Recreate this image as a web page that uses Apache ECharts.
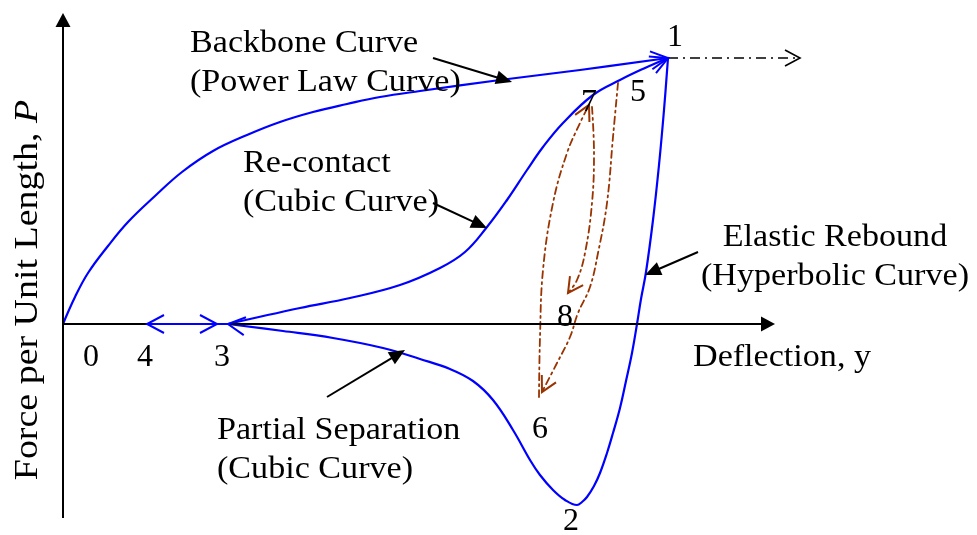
<!DOCTYPE html>
<html>
<head>
<meta charset="utf-8">
<script src="https://cdn.jsdelivr.net/npm/echarts@6.0.0/dist/echarts.min.js"></script>
<style>
  html, body { margin: 0; padding: 0; background: #fff; }
  #chart { width: 977px; height: 535px; }
</style>
</head>
<body>
<div id="chart"></div>
<script>
// P–y spring response under cyclic lateral loading.
// Units are arbitrary deflection (y) and force per unit length (P).

// Backbone (power law) from 0 to 1
const backboneX = [0, 12, 25, 45, 65, 92, 119, 150, 184, 217, 250, 284, 317, 357, 437, 517, 605];
const backboneY = [0, 27, 51, 78, 102, 128, 152, 173, 189, 202, 212, 220, 227, 233, 244, 254, 266];

// Elastic rebound (hyperbolic) from 1 to 2
const reboundX = [605, 601, 596, 590, 583, 578, 574, 569, 563, 557, 550, 544, 537, 531, 524, 519, 514];
const reboundY = [266, 214, 159, 104, 52, 25, 0, -29, -57, -84, -109, -129, -149, -162, -173, -178, -181];

// Partial separation (cubic) from 2 to 3
const separationX = [514, 502, 490, 477, 467, 450, 430, 410, 387, 357, 320, 270, 220, 165];
const separationY = [-181, -176, -166, -151, -136, -106, -76, -57, -45, -35, -24, -14, -7, 0];

// Re-contact (cubic) from 3 back to 1
const recontactX = [165, 237, 287, 337, 377, 402, 424, 444, 464, 480, 500, 530, 557, 582, 605];
const recontactY = [0, 16, 26, 39, 56, 72, 97, 124, 154, 177, 201, 229, 244, 256, 266];

// Inner load cycles 5 -> 6 -> 7 -> 8
const cycle56X = [555, 550, 544, 535, 527, 515, 507, 494, 479];
const cycle56Y = [241, 187, 121, 71, 37, 11, -13, -39, -68];
const cycle67X = [476, 477, 480, 490, 504, 517, 526];
const cycle67Y = [-73, -13, 54, 121, 171, 201, 219];
const cycle78X = [529, 531, 529, 522, 514, 505];
const cycle78Y = [217, 171, 121, 71, 44, 31];

// State labels
const stateNames = ['0', '1', '2', '3', '4', '5', '6', '7', '8'];
const stateX = [28, 612, 508, 159, 82, 575, 477, 526, 502];
const stateY = [-34, 286, -198, -34, -34, 231, -106, 221, 6];

// Axes, gap-closing moves along the axis, continuation beyond 1: [x1, y1, x2, y2]
const axisSegments = [[0, -194, 0, 311], [0, 0, 712, 0]];
const gapOpen = [[165, 0, 84, 0]];
const gapClose = [[84, 0, 154, 0]];
const beyondPeak = [[605, 266, 737, 266]];

// Callout pointers [x1, y1, x2, y2]
const pointers = [[370, 266, 449, 242], [370, 121, 424, 96], [635, 72, 582, 49], [264, -73, 342, -26]];

// Callout texts and their anchors
const noteTexts = [
  'Backbone Curve\n(Power Law Curve)',
  'Re-contact\n(Cubic Curve)',
  'Elastic Rebound\n(Hyperbolic Curve)',
  'Partial Separation\n(Cubic Curve)',
  'Deflection, y'
];
const noteX = [127, 180, 772, 154, 630];
const noteY = [300, 180, 106, -87, -14];
const noteAlign = ['left', 'left', 'center', 'left', 'left'];

const yTitle = 'Force per Unit Length, ';
const yTitleVar = 'P';
const yTitleAt = [-35, 34];

const BLUE = '#0000ff';
const BROWN = '#993300';
const FONT = 'Liberation Serif, Times New Roman, serif';

const pts = (xs, ys) => xs.map((x, i) => [x, ys[i]]);
const lastStep = (xs, ys) => {
  const n = xs.length;
  return [[xs[n - 2], ys[n - 2], xs[n - 1], ys[n - 1]]];
};

function curve(data, color, width, dash) {
  return {
    type: 'line', data, smooth: 0.4,
    symbol: 'none', clip: false, silent: true,
    lineStyle: { color, width, type: dash || 'solid', cap: 'round', join: 'round' },
    z: 3
  };
}

// Straight segments with optional arrow heads (open chevron or filled triangle)
function segments(data, o) {
  return {
    type: 'custom', coordinateSystem: 'cartesian2d', clip: false, silent: true, z: 4,
    data,
    renderItem(params, api) {
      const p0 = api.coord([api.value(0), api.value(1)]);
      const p1 = api.coord([api.value(2), api.value(3)]);
      const ang = Math.atan2(p1[1] - p0[1], p1[0] - p0[0]);
      const ux = Math.cos(ang), uy = Math.sin(ang);
      const children = [];
      let end = p1;
      if (o.head === 'filled') end = [p1[0] - ux * o.len * 0.7, p1[1] - uy * o.len * 0.7];
      if (o.line !== false) {
        children.push({
          type: 'line',
          shape: { x1: p0[0], y1: p0[1], x2: end[0], y2: end[1] },
          style: { stroke: o.color, lineWidth: o.width, lineDash: o.dash || null }
        });
      }
      if (o.head) {
        const bx = p1[0] - ux * o.len, by = p1[1] - uy * o.len;
        const a = [bx - uy * o.half, by + ux * o.half];
        const b = [bx + uy * o.half, by - ux * o.half];
        if (o.head === 'filled') {
          children.push({ type: 'polygon', shape: { points: [p1, a, b] }, style: { fill: o.color } });
        } else {
          children.push({
            type: 'polyline', shape: { points: [a, p1, b] },
            style: { stroke: o.color, lineWidth: o.headWidth || o.width, fill: null }
          });
        }
      }
      return { type: 'group', children };
    }
  };
}

const chart = echarts.init(document.getElementById('chart'), null, { renderer: 'canvas' });

const cycleDash = [7, 4, 2, 4];

chart.setOption({
  animation: false,
  backgroundColor: '#fff',
  grid: { left: 0, right: 0, top: 0, bottom: 0 },
  xAxis: { type: 'value', min: -63, max: 914, show: false },
  yAxis: { type: 'value', min: -211, max: 324, show: false },
  series: [
    segments(axisSegments, { color: '#000', width: 2, head: 'filled', len: 14, half: 7.5 }),
    segments(beyondPeak, { color: '#000', width: 1.6, dash: [10, 5, 2, 5], head: 'open', len: 15, half: 8, headWidth: 1.6 }),
    segments(gapOpen, { color: BLUE, width: 2, head: 'open', len: 17, half: 9 }),
    segments(gapClose, { color: BLUE, width: 2, head: 'open', len: 17, half: 9, line: false }),

    curve(pts(backboneX, backboneY), BLUE, 2.2),
    curve(pts(reboundX.concat(separationX.slice(1)), reboundY.concat(separationY.slice(1))), BLUE, 2.2),
    curve(pts(recontactX, recontactY), BLUE, 2.2),
    segments(lastStep(backboneX, backboneY), { color: BLUE, width: 2, head: 'open', len: 17, half: 9, line: false }),
    segments(lastStep(recontactX, recontactY), { color: BLUE, width: 2, head: 'open', len: 17, half: 9, line: false }),
    segments(lastStep(separationX, separationY), { color: BLUE, width: 2, head: 'open', len: 17, half: 9, line: false }),

    curve(pts(cycle56X, cycle56Y), BROWN, 1.8, cycleDash),
    curve(pts(cycle67X, cycle67Y), BROWN, 1.8, cycleDash),
    curve(pts(cycle78X, cycle78Y), BROWN, 1.8, cycleDash),
    segments(lastStep(cycle56X, cycle56Y), { color: BROWN, width: 2, head: 'open', len: 15, half: 8, line: false }),
    segments(lastStep(cycle67X, cycle67Y), { color: BROWN, width: 2, head: 'open', len: 15, half: 8, line: false }),
    segments(lastStep(cycle78X, cycle78Y), { color: BROWN, width: 2, head: 'open', len: 15, half: 8, line: false }),

    segments(pointers, { color: '#000', width: 2, head: 'filled', len: 16, half: 7 }),

    {
      type: 'scatter', silent: true, clip: false, symbolSize: 0, z: 6,
      itemStyle: { color: '#000', opacity: 1 },
      data: stateNames.map((n, i) => ({ name: n, value: [stateX[i], stateY[i]] })),
      label: {
        show: true, position: 'inside', formatter: '{b}',
        color: '#000', fontFamily: FONT, fontSize: 32,
        textBorderWidth: 0, textBorderColor: 'transparent', textShadowBlur: 0
      }
    }
  ]
});

// Callout and axis titles, anchored in data coordinates
const toPx = (p) => chart.convertToPixel({ gridIndex: 0 }, p);
const graphics = noteTexts.map((t, i) => {
  const p = toPx([noteX[i], noteY[i]]);
  return {
    type: 'text', x: p[0], y: p[1], scaleX: 1.1, z: 10, silent: true,
    style: {
      text: t, fill: '#000', fontFamily: FONT, fontSize: 31, lineHeight: 39,
      align: noteAlign[i], verticalAlign: 'top'
    }
  };
});
const yp = toPx(yTitleAt);
graphics.push({
  type: 'text', x: yp[0], y: yp[1], rotation: Math.PI / 2, scaleX: 1.15, z: 10, silent: true,
  style: {
    text: '{a|' + yTitle + '}{b|' + yTitleVar + '}',
    align: 'center', verticalAlign: 'middle',
    rich: {
      a: { fontFamily: FONT, fontSize: 33, fill: '#000' },
      b: { fontFamily: FONT, fontSize: 33, fontStyle: 'italic', fill: '#000' }
    }
  }
});
chart.setOption({ graphic: graphics });
</script>
</body>
</html>
